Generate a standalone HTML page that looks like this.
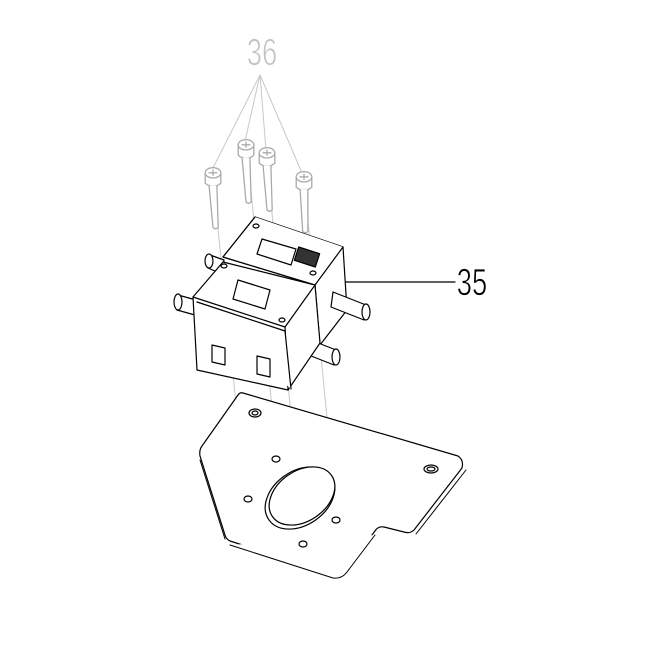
<!DOCTYPE html>
<html><head><style>
html,body{margin:0;padding:0;background:#fff;}
svg{display:block;}
</style></head><body>
<svg width="650" height="650" viewBox="0 0 650 650" xmlns="http://www.w3.org/2000/svg" fill="none" stroke-linejoin="round" stroke-linecap="round">
<!-- labels -->
<text x="262" y="65" font-family="Liberation Sans Narrow, Liberation Sans, sans-serif" font-size="38" font-weight="normal" fill="#c4c4c4" stroke="#fff" stroke-width="0.8" text-anchor="middle" transform="translate(262 0) scale(0.72 1) translate(-262 0)">36</text>
<text x="472" y="295" font-family="Liberation Sans Narrow, Liberation Sans, sans-serif" font-size="38" fill="#000" stroke="#fff" stroke-width="0.8" text-anchor="middle" transform="translate(472 0) scale(0.72 1) translate(-472 0)">35</text>
<!-- leaders 36 -->
<g stroke="#c8c8c8" stroke-width="1">
<line x1="260" y1="75" x2="212" y2="170"/>
<line x1="260" y1="75" x2="245" y2="141"/>
<line x1="260" y1="75" x2="266" y2="150"/>
<line x1="260" y1="75" x2="302" y2="173"/>
<line x1="214" y1="190" x2="248" y2="520"/>
<line x1="248" y1="160" x2="278" y2="470"/>
<line x1="268" y1="170" x2="304" y2="555"/>
<line x1="305" y1="190" x2="338" y2="532"/>
</g>
<line x1="336" y1="282" x2="455" y2="282" stroke="#000" stroke-width="1.2"/>
<!-- screws -->
<g stroke="#aaa" stroke-width="1" fill="#fff">
<g transform="translate(213 178) scale(1.3)"><path d="M-6 -4 L-6 4 Q0 9 6 4 L6 -4"/><ellipse cx="0" cy="-4" rx="6" ry="4"/><path d="M-3 -4 H3 M0 -6 V-2"/><path d="M-3 6 L0 38 Q2 40 4 38 L3 6"/></g>
<g transform="translate(246 150) scale(1.3)"><path d="M-6 -4 L-6 4 Q0 9 6 4 L6 -4"/><ellipse cx="0" cy="-4" rx="6" ry="4"/><path d="M-3 6 L0 40 Q2 42 4 40 L3 6"/><path d="M-3 -4 H3 M0 -6 V-2"/></g>
<g transform="translate(267 158) scale(1.3)"><path d="M-6 -4 L-6 4 Q0 9 6 4 L6 -4"/><ellipse cx="0" cy="-4" rx="6" ry="4"/><path d="M-3 -4 H3 M0 -6 V-2"/><path d="M-3 6 L0 40 Q2 42 4 40 L3 6"/></g>
<g transform="translate(304 182) scale(1.3)"><path d="M-6 -4 L-6 4 Q0 9 6 4 L6 -4"/><ellipse cx="0" cy="-4" rx="6" ry="4"/><path d="M-3 -4 H3 M0 -6 V-2"/><path d="M-3 6 L-1 38 Q1 40 3 38 L3 6"/></g>
</g>
<!-- plate -->
<g stroke="#000" stroke-width="1.2" fill="#fff">
<path d="M243 393 L458 456 Q464 460 462 468 L414 530 Q410 534 404 532 L384 527 Q378 526 375 531 L347 568 Q342 575 333 574 L230 541 Q226 539 225 535 L200 456 Q199 450 202 446 L238 395 Q240 392 243 393 Z"/>
<path d="M230 545 L333 578 Q342 579 347 572 L375 535" stroke-width="1"/>
<path d="M200 460 L225 539" stroke-width="1"/>
<path d="M466 470 L416 534" stroke-width="1"/>
<ellipse cx="300" cy="498" rx="38" ry="27" transform="rotate(-35 300 498)"/>
<ellipse cx="302" cy="496" rx="36" ry="25" transform="rotate(-35 302 496)"/>
<ellipse cx="255" cy="413" rx="6" ry="4"/><ellipse cx="255" cy="413" rx="3" ry="2"/>
<ellipse cx="431" cy="469" rx="7" ry="4"/><ellipse cx="431" cy="469" rx="4" ry="2"/>
<ellipse cx="276" cy="459" rx="4" ry="3"/>
<ellipse cx="248" cy="499" rx="4" ry="3"/>
<ellipse cx="336" cy="520" rx="4" ry="3"/>
<ellipse cx="303" cy="544" rx="4" ry="3"/>
</g>
<!-- solenoid block -->
<g stroke="#000" stroke-width="1.2" fill="#fff">
<path d="M210 255 L224 260 L222 274 L208 268 Z"/><ellipse cx="209" cy="261" rx="4" ry="7"/>
<path d="M255 217 L343 247 L347 310 L320 345 L315 285 L223 257 Z"/>
<path d="M255 217 L223 257 L315 285 L343 247"/>
<path d="M262 239 L296 249 L291 265 L257 254 Z"/>
<rect x="296" y="250" width="22" height="14" fill="#333" transform="rotate(18 307 257)"/>
<ellipse cx="256" cy="226" rx="3" ry="2"/><ellipse cx="313" cy="273" rx="3" ry="2"/>
<path d="M333 292 L366 305 L364 320 L331 307 Z"/><ellipse cx="366" cy="312" rx="4" ry="8"/>
<path d="M303 337 L336 350 L334 365 L301 352 Z"/><ellipse cx="336" cy="357" rx="4" ry="8"/>
<path d="M178 295 L196 300 L195 315 L177 310 Z"/><ellipse cx="178" cy="302" rx="4" ry="8"/>
<path d="M193 297 L223 262 L315 285 L320 343 L288 390 L197 370 Z"/>
<path d="M193 297 L285 327 L315 285"/>
<path d="M285 327 L288 390"/>
<path d="M197 302 L285 331 L291 389"/>
<path d="M238 280 L270 290 L265 309 L233 299 Z"/>
<ellipse cx="224" cy="266" rx="3" ry="2"/><ellipse cx="282" cy="320" rx="3" ry="2"/>
<path d="M212 345 L225 348 L225 365 L212 362 Z"/>
<path d="M257 356 L270 359 L270 377 L257 374 Z"/>
</g>
</svg>
</body></html>
